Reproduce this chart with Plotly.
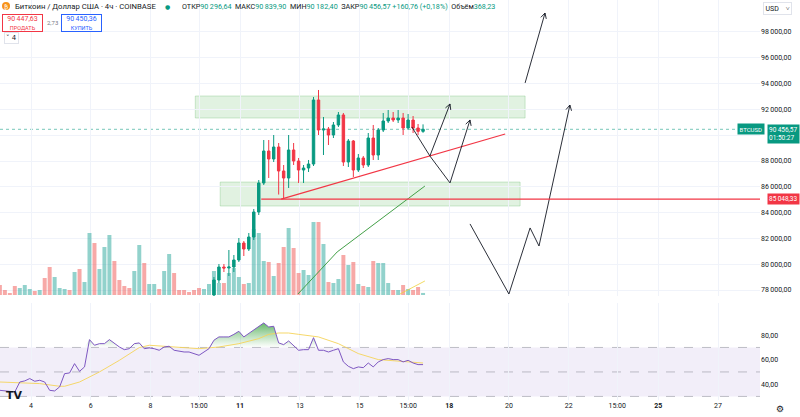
import math
import pandas as pd
import plotly.graph_objects as go

# ---------------- data ----------------
t_first = "2024-11-02 23:00"          # first 4h candle (local time)
n_bars = 86
first_visible = 43                     # candles before this are below the visible price range

c_open = [77612, 78775, 79783, 79705, 79783, 80326, 81643, 81178, 82109, 84047,
          86295, 88775, 88155, 89085, 87225, 86682, 88853, 87999, 87302, 87457,
          87767, 92729, 90403, 90481, 90015, 90791, 91566, 87922, 89550, 87302,
          88233, 87690, 89783, 88465, 90403, 91101, 91333, 91178, 91333, 90558,
          91178, 90558, 90296.64]
c_high = [79008, 80016, 80016, 81101, 80713, 82031, 81798, 82419, 84280, 86527,
          89628, 89628, 90015, 89395, 87690, 90015, 89395, 88233, 87690, 88078,
          92961, 93504, 91411, 90636, 91023, 91798, 91721, 89705, 89628, 88543,
          88388, 90170, 90791, 90558, 91721, 91954, 91798, 91954, 91721, 91643,
          91488, 90868, 90839.90]
c_low = [77225, 78543, 79395, 79085, 79395, 80170, 80636, 81023, 81876, 83814,
         86140, 86682, 87922, 85400, 85048, 85907, 87690, 86295, 86295, 87147,
         87612, 90015, 88465, 89240, 89783, 90636, 87612, 87535, 86760, 87147,
         87457, 87535, 88078, 88078, 90248, 90946, 91023, 90946, 90015, 90403,
         90170, 90015, 90182.40]
c_close = [78775, 79783, 79705, 79783, 80326, 81643, 81178, 82109, 84047, 86295,
           88775, 88155, 89085, 87225, 86682, 88853, 87999, 87302, 87457, 87767,
           92729, 90403, 90481, 90015, 90791, 91566, 87922, 89550, 87302, 88233,
           87690, 89783, 88465, 90403, 91101, 91333, 91178, 91333, 90558, 91178,
           90558, 90296.64, 90456.57]

volume = [1800, 900, 360, 1620, 1260, 1800, 1080, 720, 900, 3060,
          5040, 3240, 1260, 1080, 900, 4140, 4680, 2340, 11160, 9360,
          4680, 8640, 10800, 6120, 2700, 1620, 1260, 4320, 9000, 5760,
          1980, 1980, 1080, 4320, 7380, 3960, 900, 900, 540, 900,
          1260, 1080, 1980,
          4320, 2160, 2160, 3960, 4860, 3240, 1980, 2160, 11880, 11160,
          6120, 5940, 3420, 5760, 8640, 12060, 8460, 3960, 4500, 3600,
          13140, 13140, 9180, 2340, 2160, 2880, 7200, 5400, 5940, 1980,
          1620, 1440, 6120, 5760, 5760, 2160, 900, 900, 1800, 1080,
          900, 1440, 368.23]
early_up = [0, 0, 0, 0, 1, 1, 1, 0, 1, 0, 0, 1, 1, 1, 0, 1, 0, 1, 1, 0,
            1, 1, 1, 0, 0, 0, 0, 1, 1, 0, 1, 1, 0, 1, 1, 0, 0, 0, 0, 0,
            0, 1, 1]

rsi = [35.0, 34.5, 34.2, 33.7, 41.8, 42.7, 44.6, 42.4, 43.2, 41.8,
       35.0, 34.5, 37.8, 48.6, 49.2, 56.8, 50.5, 54.1, 76.4, 71.8,
       73.1, 73.1, 76.4, 73.1, 70.4, 68.2, 69.0, 73.1, 73.7, 69.0,
       69.6, 69.0, 67.7, 70.4, 71.0, 67.7, 66.9, 66.3, 66.3, 65.0,
       63.6, 66.3, 69.0, 75.9, 78.6, 78.6, 78.6, 80.7, 83.2, 78.6,
       81.3, 84.0, 86.7, 90.0, 86.7, 87.3, 73.7, 72.3, 75.3, 71.8,
       67.7, 68.2, 68.2, 78.0, 67.7, 67.7, 66.3, 67.7, 69.0, 58.2,
       54.6, 52.7, 54.1, 53.5, 57.3, 54.1, 58.2, 60.1, 60.9, 60.1,
       60.1, 58.2, 59.5, 57.3, 56.0, 56.0]
rsi_ma_idx = [0, 4, 8, 12, 13, 16, 20, 24, 28, 30, 32, 36, 40, 44, 48, 52, 54,
              56, 58, 60, 64, 68, 72, 76, 80, 84, 85]
rsi_ma_val = [41.8, 41.3, 40.5, 38.3, 38.3, 41.8, 50.0, 59.5, 69.9, 71.8, 71.2,
              69.9, 69.0, 70.4, 73.1, 77.2, 80.7, 81.8, 81.8, 80.7, 78.6, 73.1,
              65.0, 60.1, 59.0, 57.6, 57.3]

price_ticks = [78000, 80000, 82000, 84000, 86000, 88000, 90000, 92000, 94000, 96000, 98000]
price_hidden = [90000]                 # label covered by the last-price tag
rsi_ticks = [40, 60, 80]
x_tick_times = ["2024-11-04", "2024-11-06", "2024-11-08", "2024-11-09 15:00",
                "2024-11-11", "2024-11-13", "2024-11-15", "2024-11-16 15:00",
                "2024-11-18", "2024-11-20", "2024-11-22", "2024-11-23 15:00",
                "2024-11-25", "2024-11-27"]
x_tick_text = ["4", "6", "8", "15:00", "<b>11</b>", "13", "15", "15:00",
               "<b>18</b>", "20", "22", "15:00", "<b>25</b>", "27"]

last_price = 90456.57
support_price = 85048.33
support_start = "2024-11-11 17:00"

zone_top_t = ["2024-11-09 12:00", "2024-11-20 13:00"]
zone_top_p = [91330, 93040]
zone_bot_t = ["2024-11-10 08:00", "2024-11-20 09:00"]
zone_bot_p = [84510, 86370]

trend_t = ["2024-11-12 09:00", "2024-11-19 21:00"]
trend_p = [85048, 90090]
green_t = ["2024-11-12 22:30", "2024-11-14 06:00", "2024-11-17 04:30"]
green_p = [77690, 80950, 86060]
yellow_t = ["2024-11-16 08:30", "2024-11-17 04:30"]
yellow_p = [77690, 78700]

path1_t = ["2024-11-16 18:00", "2024-11-17 08:30", "2024-11-18 00:40"]
path1_p = [90640, 88390, 92420]
path2_t = ["2024-11-17 08:30", "2024-11-18 00:40", "2024-11-18 16:45"]
path2_p = [88390, 86300, 91180]
path3_t = ["2024-11-18 16:45", "2024-11-20 00:00", "2024-11-20 17:00",
           "2024-11-21 00:10", "2024-11-22 01:00"]
path3_p = [83120, 77690, 82810, 81410, 92340]
path4_t = ["2024-11-20 13:00", "2024-11-21 05:00"]
path4_p = [94050, 99470]

# ---------------- layout constants ----------------
W, H = 800, 417
PLOT_W, PLOT_H = 760, 400
PX_PER_DAY = 29.87
X_REF = pd.Timestamp("2024-11-04")
X_REF_PX = 31
x_left = X_REF - pd.Timedelta(days=X_REF_PX / PX_PER_DAY)
x_right = x_left + pd.Timedelta(days=PLOT_W / PX_PER_DAY)
MAIN_H = 296
PRICE_TOP, PRICE_BOT = 100480, 77535
RSI_RANGE = [27.1, 106.3]
VOL_RANGE = [-180, 53100]

UP, DN = "#089981", "#f23645"
UP_V, DN_V = "rgba(38,166,154,0.5)", "rgba(239,83,80,0.5)"
TXT = "#131722"
GRID = "#f0f3fa"
FONT = "Roboto"


def px(x):
    return x / PLOT_W


def py(y):
    return 1 - y / PLOT_H


times = pd.date_range(t_first, periods=n_bars, freq="4h")
vis_t = times[first_visible:]
up_flags = early_up + [1 if c >= o else 0 for o, c in zip(c_open, c_close)]
vol_colors = [UP_V if u else DN_V for u in up_flags]

fig = go.Figure()

# volume (base axis y)
fig.add_trace(go.Bar(x=times, y=volume, marker_color=vol_colors, marker_line_width=0,
                     xaxis="x", yaxis="y", hoverinfo="skip", showlegend=False))

# candles (price axis y3)
fig.add_trace(go.Candlestick(
    x=vis_t, open=c_open, high=c_high, low=c_low, close=c_close,
    increasing=dict(line=dict(color=UP, width=1), fillcolor=UP),
    decreasing=dict(line=dict(color=DN, width=1), fillcolor=DN),
    whiskerwidth=0, xaxis="x", yaxis="y3", hoverinfo="skip", showlegend=False))


def line(tt, pp, color, width=1, yaxis="y3"):
    fig.add_trace(go.Scatter(x=tt, y=pp, mode="lines", line=dict(color=color, width=width),
                             xaxis="x", yaxis=yaxis, hoverinfo="skip", showlegend=False))


def to_px(t, p):
    X = (pd.Timestamp(t) - x_left) / pd.Timedelta(days=1) * PX_PER_DAY
    Y = (PRICE_TOP - p) * MAIN_H / (PRICE_TOP - PRICE_BOT)
    return X, Y


def from_px(X, Y):
    t = x_left + pd.Timedelta(days=X / PX_PER_DAY)
    p = PRICE_TOP - Y * (PRICE_TOP - PRICE_BOT) / MAIN_H
    return t, p


def chevron(t0, p0, t1, p1, size=6, ang=28):
    X0, Y0 = to_px(t0, p0)
    X1, Y1 = to_px(t1, p1)
    dx, dy = X0 - X1, Y0 - Y1
    L = math.hypot(dx, dy)
    dx, dy = dx / L, dy / L
    pts = []
    for s in (1, -1):
        a = math.radians(ang * s)
        rx = dx * math.cos(a) - dy * math.sin(a)
        ry = dx * math.sin(a) + dy * math.cos(a)
        pts.append(from_px(X1 + rx * size, Y1 + ry * size))
    return [pts[0][0], pd.Timestamp(t1), pts[1][0]], [pts[0][1], p1, pts[1][1]]


line(trend_t, trend_p, "#f23645", 1.2)
line(green_t, green_p, "#43a047", 1)
line(yellow_t, yellow_p, "rgba(240,210,60,0.8)", 1)

for tt, pp in [(path1_t, path1_p), (path2_t, path2_p), (path3_t, path3_p), (path4_t, path4_p)]:
    line(tt, pp, "#131722", 0.9)
    ct, cp = chevron(tt[-2], pp[-2], tt[-1], pp[-1])
    line(ct, cp, "#131722", 0.9)

# RSI pane
rsi_lo = [min(v, 70) for v in rsi]
rsi_hi = [max(v, 70) for v in rsi]
fig.add_trace(go.Scatter(x=times, y=rsi_lo, mode="lines", line=dict(width=0),
                         xaxis="x2", yaxis="y2", hoverinfo="skip", showlegend=False))
fig.add_trace(go.Scatter(x=times, y=rsi_hi, mode="lines", line=dict(width=0), fill="tonexty",
                         fillgradient=dict(type="vertical", start=70, stop=92,
                                           colorscale=[[0, "rgba(76,175,80,0)"],
                                                       [1, "rgba(56,160,60,0.85)"]]),
                         xaxis="x2", yaxis="y2", hoverinfo="skip", showlegend=False))
fig.add_trace(go.Scatter(x=[times[i] for i in rsi_ma_idx], y=rsi_ma_val, mode="lines",
                         line=dict(color="rgba(245,212,90,0.9)", width=1),
                         xaxis="x2", yaxis="y2", hoverinfo="skip", showlegend=False))
fig.add_trace(go.Scatter(x=times, y=rsi, mode="lines", line=dict(color="#7e57c2", width=1),
                         xaxis="x2", yaxis="y2", hoverinfo="skip", showlegend=False))

# ---------------- shapes ----------------
shapes = []
for tt, pp in [(zone_top_t, zone_top_p), (zone_bot_t, zone_bot_p)]:
    shapes.append(dict(type="rect", xref="x", yref="y3", x0=tt[0], x1=tt[1], y0=pp[0], y1=pp[1],
                       fillcolor="rgba(76,175,80,0.17)", line=dict(color="rgba(76,175,80,0.25)", width=1),
                       layer="below"))
shapes.append(dict(type="line", xref="x", yref="y3", x0=support_start, x1=x_right, y0=support_price,
                   y1=support_price, line=dict(color="#f23645", width=1.2)))
shapes.append(dict(type="line", xref="paper", yref="y3", x0=0, x1=1, y0=last_price, y1=last_price,
                   line=dict(color="rgba(8,153,129,0.55)", width=1, dash="dot"), layer="below"))
shapes.append(dict(type="rect", xref="paper", yref="y2", x0=0, x1=1, y0=30, y1=70,
                   fillcolor="rgba(126,87,194,0.1)", line=dict(width=0), layer="below"))
for lv in (70, 50, 30):
    shapes.append(dict(type="line", xref="paper", yref="y2", x0=0, x1=1, y0=lv, y1=lv,
                       line=dict(color="rgba(120,123,134,0.45)", width=1, dash="dash"), layer="below"))
# BTC icon
shapes.append(dict(type="circle", xref="paper", yref="paper", x0=px(2), x1=px(10), y0=py(10), y1=py(2),
                   fillcolor="#f7931a", line=dict(width=0)))


def fmt(v):
    return f"{v:,.2f}".replace(",", "\u2009").replace(".", ",")


def txt(x, y, text, size, color=TXT, family=FONT, xa="center", ya="middle", **kw):
    d = dict(xref="paper", yref="paper", x=px(x), y=py(y), xanchor=xa, yanchor=ya,
             text=text, showarrow=False, font=dict(size=size, color=color, family=family))
    d.update(kw)
    return d


# ---------------- annotations ----------------
ann = []
ann.append(txt(6, 6, "₿", 6, "white", "DejaVu Sans"))
ann.append(txt(13, 6.5, "Биткоин / Доллар США · 4ч · COINBASE", 7.7, xa="left"))
ann.append(txt(167, 6.5, "●", 6, UP, "DejaVu Sans"))
g = f"<span style='color:{UP}'>"
ohlc = (f"ОТКР{g}{fmt(c_open[-1])}</span>  МАКС{g}{fmt(c_high[-1])}</span>  "
        f"МИН{g}{fmt(c_low[-1])}</span>  ЗАКР{g}{fmt(c_close[-1])}</span> "
        f"{g}+160,76 (+0,18%)</span>  Объём{g}{fmt(volume[-1])}</span>")
ann.append(txt(180, 6.5, ohlc, 7.2, xa="left"))
ann.append(txt(22.5, 22.5, "90\u2009447,63<br><span style='font-size:5.5px'>ПРОДАТЬ</span>", 7,
               DN, bordercolor=DN, borderwidth=1, bgcolor="white", width=38, height=15,
               borderpad=0.5))
ann.append(txt(52, 22.5, "2,73", 6, "#787b86"))
ann.append(txt(81, 22.5, "90\u2009450,36<br><span style='font-size:5.5px'>КУПИТЬ</span>", 7,
               "#2962ff", bordercolor="#2962ff", borderwidth=1, bgcolor="white", width=38,
               height=15, borderpad=0.5))
ann.append(txt(4, 38.5, "˅ 4", 7, family="DejaVu Sans", xa="left",
               bordercolor="#e0e3eb", borderwidth=1, borderpad=1))
ann.append(txt(763, 8, "USD    ˅", 7, xa="left", bordercolor="#e0e3eb", borderwidth=1,
               borderpad=1.5))
ann.append(dict(xref="paper", yref="y3", x=px(765), y=last_price, xanchor="right", yanchor="middle",
                text="BTCUSD", showarrow=False, font=dict(size=6, color="white", family=FONT),
                bgcolor=UP, borderpad=1.5))
ann.append(dict(xref="paper", yref="y3", x=px(767), y=last_price, xanchor="left", yanchor="top",
                yshift=5, text="90\u2009456,57<br>01:50:27", showarrow=False,
                font=dict(size=6.5, color="white", family=FONT), bgcolor=UP, borderpad=1,
                align="left"))
ann.append(dict(xref="paper", yref="y3", x=px(767), y=support_price, xanchor="left", yanchor="middle",
                text=fmt(support_price), showarrow=False, font=dict(size=6.5, color="white", family=FONT),
                bgcolor=DN, borderpad=1))
ann.append(txt(4, 395, "<b>TV</b>", 11, family="DejaVu Sans", xa="left"))
ann.append(txt(780, 409, "⚙", 9, family="DejaVu Sans"))

fig.update_layout(
    width=W, height=H, margin=dict(l=0, r=W - PLOT_W, t=0, b=H - PLOT_H),
    paper_bgcolor="white", plot_bgcolor="white", showlegend=False,
    font=dict(family=FONT, size=7, color=TXT),
    bargap=0.2,
    xaxis=dict(type="date", range=[x_left, x_right], domain=[0, 1], anchor="y",
               showticklabels=False, tickvals=x_tick_times, showgrid=True, gridcolor=GRID,
               zeroline=False, rangeslider=dict(visible=False), fixedrange=True),
    xaxis2=dict(type="date", range=[x_left, x_right], matches="x", domain=[0, 1], anchor="y2",
                tickvals=x_tick_times, ticktext=x_tick_text, showgrid=True, gridcolor=GRID,
                tickfont=dict(size=7, color=TXT, family=FONT), ticks="", zeroline=False),
    yaxis=dict(domain=[1 - MAIN_H / PLOT_H, 1], range=VOL_RANGE, visible=False, fixedrange=True),
    yaxis3=dict(overlaying="y", anchor="x", side="right", range=[PRICE_BOT, PRICE_TOP],
                tickvals=price_ticks,
                ticktext=["" if v in price_hidden else fmt(v) for v in price_ticks],
                showgrid=True, gridcolor=GRID, zeroline=False, ticks="",
                tickfont=dict(size=7, color=TXT, family=FONT)),
    yaxis2=dict(domain=[0, 1 - 303 / PLOT_H], range=RSI_RANGE, anchor="x2", side="right",
                tickvals=rsi_ticks, ticktext=[fmt(v) for v in rsi_ticks], showgrid=False,
                zeroline=False, ticks="", tickfont=dict(size=7, color=TXT, family=FONT)),
    shapes=shapes, annotations=ann,
)

fig.write_html("out.html")
